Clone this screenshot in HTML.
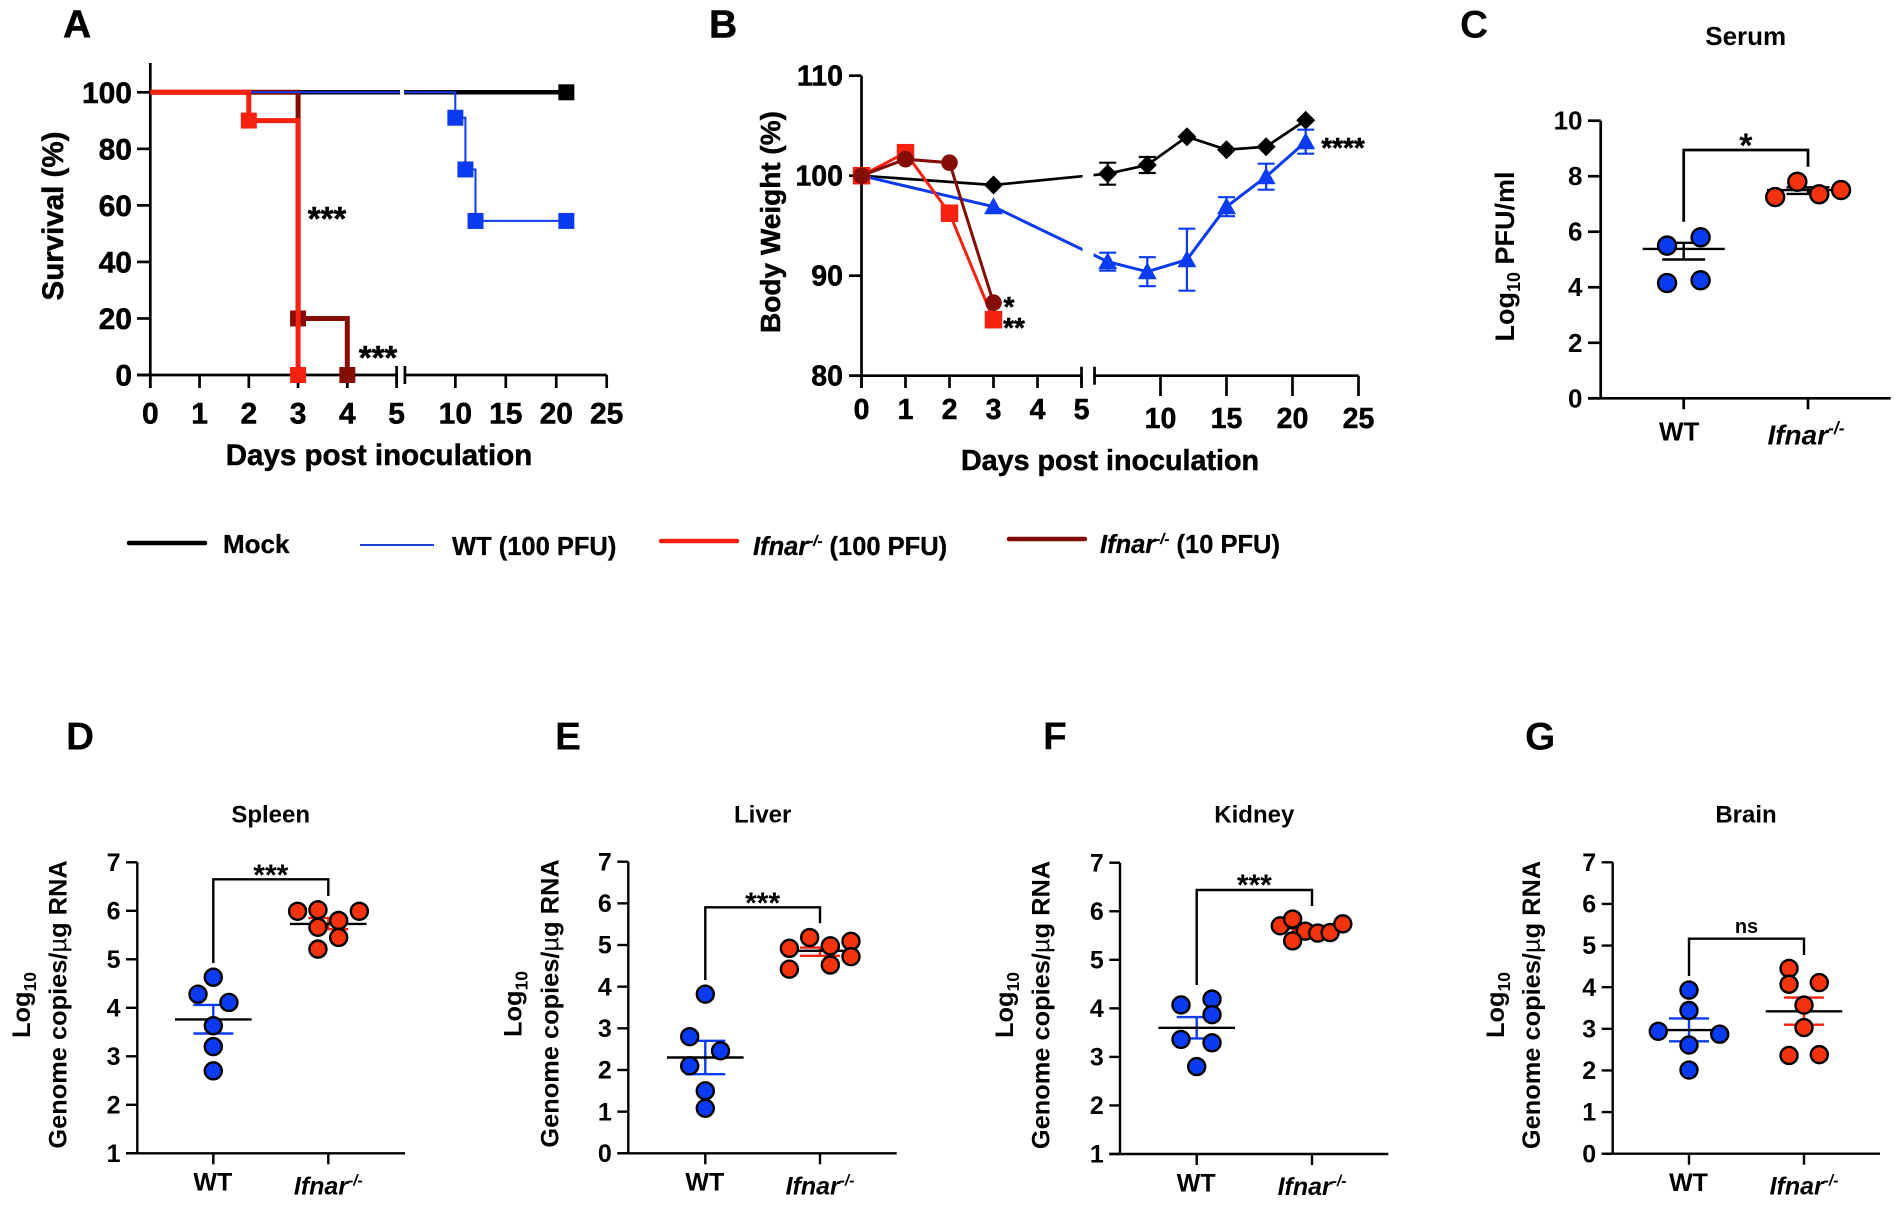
<!DOCTYPE html>
<html lang="en">
<head>
<meta charset="utf-8">
<title>Survival, body weight and viral load panels</title>
<style>
html,body{margin:0;padding:0;background:#fff;}
svg{display:block;}
text{font-family:"Liberation Sans",sans-serif;font-weight:bold;fill:#000;}
#panel-a text,#panel-b text{stroke:#000;stroke-width:.5px;}
#legend text{stroke:#000;stroke-width:.3px;}
</style>
</head>
<body>
<svg id="fig" xmlns="http://www.w3.org/2000/svg" width="1901" height="1206" viewBox="0 0 1901 1206">
<rect x="0" y="0" width="1901" height="1206" fill="#fff"/>

<g id="panel-a">
<text x="63" y="37.5" font-size="39">A</text>
<text transform="translate(63,216) rotate(-90)" text-anchor="middle" font-size="29.5">Survival (%)</text>
<text x="379" y="465" text-anchor="middle" font-size="29.5">Days post inoculation</text>
<text x="327" y="230" text-anchor="middle" font-size="33">***</text>
<text x="378" y="369" text-anchor="middle" font-size="33">***</text>
</g>

<g id="panel-b">
<text x="709" y="37.5" font-size="39">B</text>
<text transform="translate(780,222) rotate(-90)" text-anchor="middle" font-size="28">Body Weight (%)</text>
<text x="1110" y="470" text-anchor="middle" font-size="28.7">Days post inoculation</text>
<text x="1009" y="316" text-anchor="middle" font-size="28">*</text>
<text x="1014" y="337" text-anchor="middle" font-size="28">**</text>
<text x="1343" y="157" text-anchor="middle" font-size="28">****</text>
</g>

<g id="legend">
<line x1="129" y1="543" x2="205" y2="543" stroke="#000" stroke-width="4.5" stroke-linecap="round"/>
<text x="223" y="553" font-size="26">Mock</text>
<line x1="360" y1="545" x2="434" y2="545" stroke="#1a3fd8" stroke-width="2"/>
<text x="452" y="555" font-size="25.5">WT (100 PFU)</text>
<line x1="661" y1="541" x2="737" y2="541" stroke="#f5200f" stroke-width="4.5" stroke-linecap="round"/>
<text x="753" y="555" font-size="25.5"><tspan font-style="italic">Ifnar</tspan><tspan font-style="italic" font-size="15" dy="-9">-/-</tspan><tspan dy="9"> (100 PFU)</tspan></text>
<line x1="1009" y1="539" x2="1085" y2="539" stroke="#800c05" stroke-width="4.5" stroke-linecap="round"/>
<text x="1100" y="553" font-size="25.5"><tspan font-style="italic">Ifnar</tspan><tspan font-style="italic" font-size="15" dy="-9">-/-</tspan><tspan dy="9"> (10 PFU)</tspan></text>
</g>

<g id="panel-c">
<text x="1460" y="37.5" font-size="39">C</text>
<text x="1745.7" y="45" text-anchor="middle" font-size="26">Serum</text>
<text transform="translate(1514,256.5) rotate(-90)" text-anchor="middle" font-size="27">Log<tspan font-size="18" dy="6">10</tspan><tspan dy="-6"> PFU/ml</tspan></text>
</g>

<g id="panel-d">
<text x="66" y="749.5" font-size="39">D</text>
<text x="270.7" y="822.7" text-anchor="middle" font-size="24">Spleen</text>
<text transform="translate(30,1005) rotate(-90)" text-anchor="middle" font-size="25.4">Log<tspan font-size="17.5" dy="6">10</tspan></text>
<text transform="translate(66.7,1004.5) rotate(-90)" text-anchor="middle" font-size="25.4">Genome copies/<tspan font-weight="normal">µ</tspan>g RNA</text>
</g>

<g id="panel-e">
<text x="555" y="749.5" font-size="39">E</text>
<text x="762.7" y="822.7" text-anchor="middle" font-size="24">Liver</text>
<text transform="translate(521.7,1004) rotate(-90)" text-anchor="middle" font-size="25.4">Log<tspan font-size="17.5" dy="6">10</tspan></text>
<text transform="translate(558.3,1003.5) rotate(-90)" text-anchor="middle" font-size="25.4">Genome copies/<tspan font-weight="normal">µ</tspan>g RNA</text>
</g>

<g id="panel-f">
<text x="1043" y="749.5" font-size="39">F</text>
<text x="1254.3" y="822.7" text-anchor="middle" font-size="24">Kidney</text>
<text transform="translate(1013,1005) rotate(-90)" text-anchor="middle" font-size="25.4">Log<tspan font-size="17.5" dy="6">10</tspan></text>
<text transform="translate(1049.3,1005) rotate(-90)" text-anchor="middle" font-size="25.4">Genome copies/<tspan font-weight="normal">µ</tspan>g RNA</text>
</g>

<g id="panel-g">
<text x="1525" y="749.5" font-size="39">G</text>
<text x="1746" y="822.7" text-anchor="middle" font-size="24">Brain</text>
<text transform="translate(1504,1005) rotate(-90)" text-anchor="middle" font-size="25.4">Log<tspan font-size="17.5" dy="6">10</tspan></text>
<text transform="translate(1540,1005) rotate(-90)" text-anchor="middle" font-size="25.4">Genome copies/<tspan font-weight="normal">µ</tspan>g RNA</text>
</g>
</svg>

<script>
/* ---------- Panel A: survival data ---------- */
const survYTicks = [0, 20, 40, 60, 80, 100];
const survXTicksEarly = [0, 1, 2, 3, 4, 5];
const survXTicksLate = [10, 15, 20, 25];
const survMockDays = [0, 21];
const survMockPct = [100, 100];
const survWtDays = [0, 10, 11, 12, 21];
const survWtPct = [100, 91, 72.7, 54.5, 54.5];
const survHighDays = [0, 2, 3];
const survHighPct = [100, 90, 0];
const survLowDays = [0, 3, 4];
const survLowPct = [100, 20, 0];

/* ---------- Panel B: body weight data ---------- */
const bwYTicks = [80, 90, 100, 110];
const bwXTicksEarly = [0, 1, 2, 3, 4, 5];
const bwXTicksLate = [10, 15, 20, 25];
const bwMockDays = [0, 3, 6, 9, 12, 15, 18, 21];
const bwMockPct = [100, 99.07, 100.2, 101.07, 103.9, 102.6, 102.9, 105.55];
const bwMockErr = [0, 0, 1.1, 0.8, 0, 0, 0, 0];
const bwWtDays = [0, 3, 6, 9, 12, 15, 18, 21];
const bwWtPct = [100, 96.9, 91.4, 90.4, 91.6, 96.9, 99.9, 103.4];
const bwWtErr = [0, 0, 0.9, 1.45, 3.1, 0.95, 1.3, 1.2];
const bwHighDays = [0, 1, 2, 3];
const bwHighPct = [100, 102.3, 96.25, 85.6];
const bwLowDays = [0, 1, 2, 3];
const bwLowPct = [100, 101.65, 101.3, 87.3];

/* ---------- Scatter panels: categories, ticks ---------- */
const groupCategories = ['WT', 'Ifnar'];
const serumTicks = [0, 2, 4, 6, 8, 10];
const spleenTicks = [1, 2, 3, 4, 5, 6, 7];
const liverTicks = [0, 1, 2, 3, 4, 5, 6, 7];
const kidneyTicks = [1, 2, 3, 4, 5, 6, 7];
const brainTicks = [0, 1, 2, 3, 4, 5, 6, 7];

/* value = log10 titre; jitter = offset along the category axis (1 = one category) */
const serumWtVals = [5.5, 5.8, 4.15, 4.25];
const serumWtJitter = [-0.134, 0.136, -0.134, 0.136];
const serumKoVals = [7.25, 7.8, 7.35, 7.5];
const serumKoJitter = [-0.264, -0.086, 0.09, 0.266];
const serumMeans = [5.38, 7.5];
const serumSemHigh = [5.6, 7.6];
const serumSemLow = [5.0, 7.36];

const spleenWtVals = [4.63, 4.28, 4.11, 3.63, 3.2, 2.7];
const spleenWtJitter = [0, -0.133, 0.136, 0, 0, 0];
const spleenKoVals = [5.99, 6.02, 5.8, 5.99, 5.66, 5.45, 5.21];
const spleenKoJitter = [-0.267, -0.09, 0.09, 0.27, -0.09, 0.09, -0.09];
const spleenMeans = [3.76, 5.73];
const spleenSemHigh = [4.06, 5.85];
const spleenSemLow = [3.47, 5.62];

const liverWtVals = [3.82, 2.8, 2.46, 2.1, 1.5, 1.08];
const liverWtJitter = [0, -0.136, 0.133, -0.136, 0, 0];
const liverKoVals = [4.92, 5.18, 4.98, 5.09, 4.72, 4.52, 4.42];
const liverKoJitter = [-0.267, -0.09, 0.09, 0.27, 0.27, 0.09, -0.267];
const liverMeans = [2.3, 4.86];
const liverSemHigh = [2.7, 4.94];
const liverSemLow = [1.9, 4.74];

const kidneyWtVals = [4.07, 4.19, 3.87, 3.36, 3.29, 2.8];
const kidneyWtJitter = [-0.136, 0.133, 0.133, -0.136, 0.133, 0];
const kidneyKoVals = [5.7, 5.84, 5.59, 5.55, 5.56, 5.74, 5.39];
const kidneyKoJitter = [-0.275, -0.168, -0.058, 0.05, 0.157, 0.267, -0.168];
const kidneyMeans = [3.6, 5.65];
const kidneySemHigh = [3.82, 5.7];
const kidneySemLow = [3.38, 5.6];

const brainWtVals = [3.93, 3.44, 2.94, 2.87, 2.61, 2.01];
const brainWtJitter = [0, 0, -0.267, 0.267, 0, 0];
const brainKoVals = [4.45, 4.07, 4.11, 3.57, 3.03, 2.36, 2.38];
const brainKoJitter = [-0.13, -0.13, 0.133, 0, 0, -0.13, 0.133];
const brainMeans = [2.97, 3.42];
const brainSemHigh = [3.25, 3.75];
const brainSemLow = [2.7, 3.1];

/* ---------- Helpers ---------- */
const NS = 'http://www.w3.org/2000/svg';
const BLACK = '#000';
const BLUE = '#0b3bf0';
const RED = '#f7210f';
const DARK = '#840d05';
const SCAT_RED = '#f2330e';

function add(parent, tag, attrs, text) {
  const n = document.createElementNS(NS, tag);
  for (const k in attrs) n.setAttribute(k, attrs[k]);
  if (text !== undefined) n.textContent = text;
  parent.appendChild(n);
  return n;
}
function segment(parent, x1, y1, x2, y2, color, w) {
  return add(parent, 'line', {x1: x1, y1: y1, x2: x2, y2: y2, stroke: color, 'stroke-width': w});
}
function poly(parent, pts, color, w) {
  return add(parent, 'polyline', {points: pts.map(p => p[0].toFixed(1) + ',' + p[1].toFixed(1)).join(' '), fill: 'none', stroke: color, 'stroke-width': w, 'stroke-linejoin': 'miter'});
}
function squareMark(parent, cx, cy, s, color) {
  return add(parent, 'rect', {x: cx - s / 2, y: cy - s / 2, width: s, height: s, fill: color});
}
function circleMark(parent, cx, cy, r, color) {
  return add(parent, 'circle', {cx: cx, cy: cy, r: r, fill: color});
}
function diamondMark(parent, cx, cy, r) {
  return add(parent, 'polygon', {points: [cx, cy - r, cx + r, cy, cx, cy + r, cx - r, cy].join(','), fill: BLACK});
}
function triangleMark(parent, cx, cy, r) {
  return add(parent, 'polygon', {points: [cx, cy - r, cx + r, cy + r * 0.8, cx - r, cy + r * 0.8].join(','), fill: BLUE});
}
function stepPoints(days, vals, xf, yf) {
  const pts = [[xf(days[0]), yf(vals[0])]];
  for (let i = 1; i < days.length; i++) {
    pts.push([xf(days[i]), yf(vals[i - 1])]);
    pts.push([xf(days[i]), yf(vals[i])]);
  }
  return pts;
}

/* ---------- Panel A ---------- */
const xA = d => d <= 5 ? 150.3 + d * 49.26 : 404.9 + (d - 5) * 10.09;
const yA = v => 375 - v * 2.827;
const gA = document.getElementById('panel-a');

const axisAY = segment(gA, xA(0), 63, xA(0), 388, BLACK, 2.7);


const axisAX1 = segment(gA, 137, yA(0), xA(5), yA(0), BLACK, 2.7);


const axisAX2 = segment(gA, xA(5.001), yA(0), xA(25), yA(0), BLACK, 2.7);


const breakA1 = segment(gA, xA(5), yA(0) - 9, xA(5), yA(0) + 9, BLACK, 2.7);


const breakA2 = segment(gA, xA(5.001), yA(0) - 9, xA(5.001), yA(0) + 9, BLACK, 2.7);



survYTicks.forEach(v => {
  const t = segment(gA, 137, yA(v), xA(0), yA(v), BLACK, 2.7);
  
  
  const l = add(gA, 'text', {x: 132, y: yA(v) + 10.5, 'text-anchor': 'end', 'font-size': 30}, v);
  
  
});
survXTicksEarly.concat(survXTicksLate).forEach(d => {
  const t = segment(gA, xA(d), yA(0), xA(d), 388, BLACK, 2.7);
  
  
  const l = add(gA, 'text', {x: xA(d), y: 423.5, 'text-anchor': 'middle', 'font-size': 30}, d);
  
  
});

const lineAMock = poly(gA, stepPoints(survMockDays, survMockPct, xA, yA), BLACK, 4.5);


const lineALow = poly(gA, stepPoints(survLowDays, survLowPct, xA, yA), DARK, 5);


const lineAWt = poly(gA, stepPoints(survWtDays, survWtPct, xA, yA), BLUE, 2);


const gapA = add(gA, 'rect', {x: xA(5) + 3.5, y: yA(100) - 5, width: 4, height: 10, fill: '#fff'});



survLowDays.slice(1).forEach((d, i) => {
  const m = squareMark(gA, xA(d), yA(survLowPct[i + 1]), 16, DARK);
  
  
});
const lineAHigh = poly(gA, stepPoints(survHighDays, survHighPct, xA, yA), RED, 5);


survHighDays.slice(1).forEach((d, i) => {
  const m = squareMark(gA, xA(d), yA(survHighPct[i + 1]), 16, RED);
  
  
});
survMockDays.slice(1).forEach((d, i) => {
  const m = squareMark(gA, xA(d), yA(survMockPct[i + 1]), 16, BLACK);
  
  
});
survWtDays.slice(1).forEach((d, i) => {
  const m = squareMark(gA, xA(d), yA(survWtPct[i + 1]), 16, BLUE);
  
  
});

/* ---------- Panel B ---------- */
const xB = d => d <= 5 ? 861.5 + d * 44 : 1094.5 + (d - 5) * 13.2;
const yB = v => 175.7 - (v - 100) * 10;
const gB = document.getElementById('panel-b');

const axisBY = segment(gB, xB(0), yB(110), xB(0), 388, BLACK, 2.7);


const axisBX1 = segment(gB, 849, yB(80), xB(5), yB(80), BLACK, 2.7);


const axisBX2 = segment(gB, xB(5.001), yB(80), xB(25), yB(80), BLACK, 2.7);


const breakB1 = segment(gB, xB(5), yB(80) - 9, xB(5), yB(80) + 9, BLACK, 2.7);


const breakB2 = segment(gB, xB(5.001), yB(80) - 9, xB(5.001), yB(80) + 9, BLACK, 2.7);



bwYTicks.forEach(v => {
  const t = segment(gB, 849, yB(v), xB(0), yB(v), BLACK, 2.7);
  
  
  const l = add(gB, 'text', {x: 843, y: yB(v) + 10, 'text-anchor': 'end', 'font-size': 28.5}, v);
  
  
});
bwXTicksEarly.forEach(d => {
  const t = segment(gB, xB(d), yB(80), xB(d), 388, BLACK, 2.7);
  
  
  const l = add(gB, 'text', {x: xB(d), y: 419, 'text-anchor': 'middle', 'font-size': 28.5}, d);
  
  
});
bwXTicksLate.forEach(d => {
  const t = segment(gB, xB(d), yB(80), xB(d), 396, BLACK, 2.7);
  
  
  const l = add(gB, 'text', {x: xB(d), y: 428, 'text-anchor': 'middle', 'font-size': 28.5}, d);
  
  
});

const lineBMock = poly(gB, bwMockDays.map((d, i) => [xB(d), yB(bwMockPct[i])]), BLACK, 2.7);


const lineBWt = poly(gB, bwWtDays.map((d, i) => [xB(d), yB(bwWtPct[i])]), BLUE, 3);


const gapB = add(gB, 'rect', {x: xB(5) + 1, y: yB(110), width: xB(5.001) - xB(5) - 2, height: yB(82) - yB(110), fill: '#fff'});



bwMockDays.forEach((d, i) => {
  if (bwMockErr[i] > 0) {
    const e = segment(gB, xB(d), yB(bwMockPct[i] + bwMockErr[i]), xB(d), yB(bwMockPct[i] - bwMockErr[i]), BLACK, 2.2);
    
    
    const c1 = segment(gB, xB(d) - 8.5, yB(bwMockPct[i] + bwMockErr[i]), xB(d) + 8.5, yB(bwMockPct[i] + bwMockErr[i]), BLACK, 2.2);
    
    
    const c2 = segment(gB, xB(d) - 8.5, yB(bwMockPct[i] - bwMockErr[i]), xB(d) + 8.5, yB(bwMockPct[i] - bwMockErr[i]), BLACK, 2.2);
    
    
  }
  const m = diamondMark(gB, xB(d), yB(bwMockPct[i]), 9.5);
  
  
});
bwWtDays.forEach((d, i) => {
  if (bwWtErr[i] > 0) {
    const e = segment(gB, xB(d), yB(bwWtPct[i] + bwWtErr[i]), xB(d), yB(bwWtPct[i] - bwWtErr[i]), BLUE, 2.2);
    
    
    const c1 = segment(gB, xB(d) - 8.5, yB(bwWtPct[i] + bwWtErr[i]), xB(d) + 8.5, yB(bwWtPct[i] + bwWtErr[i]), BLUE, 2.2);
    
    
    const c2 = segment(gB, xB(d) - 8.5, yB(bwWtPct[i] - bwWtErr[i]), xB(d) + 8.5, yB(bwWtPct[i] - bwWtErr[i]), BLUE, 2.2);
    
    
  }
  if (i > 0) {
    const m = triangleMark(gB, xB(d), yB(bwWtPct[i]), 9.5);
    
    
  }
});

const lineBHigh = poly(gB, bwHighDays.map((d, i) => [xB(d), yB(bwHighPct[i])]), RED, 3);


bwHighDays.forEach((d, i) => {
  const m = squareMark(gB, xB(d), yB(bwHighPct[i]), 17.5, RED);
  
  
});
const lineBLow = poly(gB, bwLowDays.map((d, i) => [xB(d), yB(bwLowPct[i])]), DARK, 3);


bwLowDays.forEach((d, i) => {
  const m = circleMark(gB, xB(d), yB(bwLowPct[i]), 8.3, DARK);
  
  
});

/* ---------- Scatter panels C-G ---------- */
function drawScatter(cfg) {
  const g = document.getElementById(cfg.id);
  const p = cfg.prefix;
  const yS = v => cfg.yBottom - (v - cfg.vMin) * (cfg.yBottom - cfg.yTop) / (cfg.vMax - cfg.vMin);
  const xS = (cat, off) => cfg.xWt + (cat + off) * (cfg.xKo - cfg.xWt);
  const sw = cfg.axisWidth;

  const ax = segment(g, cfg.xAxis, cfg.yTop, cfg.xAxis, cfg.yBottom, BLACK, sw);
  
  
  const bx = segment(g, cfg.tickLeft, cfg.yBottom, cfg.xEnd, cfg.yBottom, BLACK, sw);
  
  

  cfg.ticks.forEach(v => {
    const t = segment(g, cfg.tickLeft, yS(v), cfg.xAxis, yS(v), BLACK, sw);
    
    
    const l = add(g, 'text', {x: cfg.tickLeft - 5.5, y: yS(v) + cfg.tickFont * 0.345, 'text-anchor': 'end', 'font-size': cfg.tickFont}, v);
    
    
  });

  groupCategories.forEach((c, i) => {
    const t = segment(g, xS(i, 0), cfg.yBottom, xS(i, 0), cfg.yBottom + 11, BLACK, sw);
    
    
    const isKo = c === 'Ifnar';
    const labelFont = isKo ? cfg.koFont : cfg.tickFont;
    const l = add(g, 'text', {x: xS(i, 0) - (isKo ? cfg.koShift : cfg.wtShift), y: cfg.yBottom + (isKo ? cfg.koLabelDy : cfg.wtLabelDy), 'text-anchor': 'middle', 'font-size': labelFont, 'font-style': isKo ? 'italic' : 'normal'}, c);
    
    
    if (isKo) {
      const s = add(l, 'tspan', {'font-size': labelFont * 0.62, dy: -labelFont * 0.36}, '-/-');
      
      
    }
  });

  const br = poly(g, [[xS(0, 0), cfg.brLeft], [xS(0, 0), cfg.brTop], [xS(1, 0), cfg.brTop], [xS(1, 0), cfg.brRight]], BLACK, sw);
  
  
  const mid = (xS(0, 0) + xS(1, 0)) / 2;
  const st = add(g, 'text', {x: mid, y: cfg.starY, 'text-anchor': 'middle', 'font-size': cfg.starFont, 'font-weight': cfg.star === 'ns' ? 'normal' : 'bold'}, cfg.star);
  
  

  cfg.means.forEach((m, i) => {
    const cx = xS(i, 0);
    const eColor = cfg.semColors[i];
    const stem = segment(g, cx, yS(cfg.semHigh[i]), cx, yS(cfg.semLow[i]), eColor, 2.4);
    
    
    const hi = segment(g, cx - cfg.capHalf, yS(cfg.semHigh[i]), cx + cfg.capHalf, yS(cfg.semHigh[i]), eColor, 2.4);
    
    
    const lo = segment(g, cx - cfg.capHalf, yS(cfg.semLow[i]), cx + cfg.capHalf, yS(cfg.semLow[i]), eColor, 2.4);
    
    
    const bar = segment(g, cx - cfg.meanHalf, yS(m), cx + cfg.meanHalf, yS(m), BLACK, 2.4);
    
    
  });

  cfg.wtVals.forEach((v, i) => {
    const d = add(g, 'circle', {cx: xS(0, cfg.wtJitter[i]), cy: yS(v), r: cfg.r, fill: BLUE, stroke: BLACK, 'stroke-width': 2.4});
    
    
  });
  cfg.koVals.forEach((v, i) => {
    const d = add(g, 'circle', {cx: xS(1, cfg.koJitter[i]), cy: yS(v), r: cfg.r, fill: SCAT_RED, stroke: BLACK, 'stroke-width': 2.4});
    
    
  });
}

drawScatter({id: 'panel-c', prefix: 'serum', vMin: 0, vMax: 10, yTop: 120.7, yBottom: 398.3, xAxis: 1600.7, tickLeft: 1588, xEnd: 1890.7, xWt: 1683.7, xKo: 1808, ticks: serumTicks, tickFont: 26, koFont: 28, wtShift: 4.5, koShift: 2, axisWidth: 2.7, wtLabelDy: 42.4, koLabelDy: 46, brLeft: 221.7, brTop: 150, brRight: 166.7, star: '*', starFont: 34, starY: 157, means: serumMeans, semHigh: serumSemHigh, semLow: serumSemLow, semColors: [BLACK, BLACK], capHalf: 21.5, meanHalf: 41, wtVals: serumWtVals, wtJitter: serumWtJitter, koVals: serumKoVals, koJitter: serumKoJitter, r: 9});

drawScatter({id: 'panel-d', prefix: 'spleen', vMin: 1, vMax: 7, yTop: 862.3, yBottom: 1153.3, xAxis: 137.3, tickLeft: 126, xEnd: 405, xWt: 213.3, xKo: 328.3, ticks: spleenTicks, tickFont: 25, koFont: 25, wtShift: 0.5, koShift: 0, axisWidth: 2.4, wtLabelDy: 37.4, koLabelDy: 41, brLeft: 963, brTop: 879.3, brRight: 896, star: '***', starFont: 30, starY: 885, means: spleenMeans, semHigh: spleenSemHigh, semLow: spleenSemLow, semColors: [BLUE, RED], capHalf: 20, meanHalf: 38.3, wtVals: spleenWtVals, wtJitter: spleenWtJitter, koVals: spleenKoVals, koJitter: spleenKoJitter, r: 8.5});

drawScatter({id: 'panel-e', prefix: 'liver', vMin: 0, vMax: 7, yTop: 861.7, yBottom: 1153.3, xAxis: 628.3, tickLeft: 617.3, xEnd: 896.7, xWt: 705.3, xKo: 820, ticks: liverTicks, tickFont: 25, koFont: 25, wtShift: 0.5, koShift: 0, axisWidth: 2.4, wtLabelDy: 37.4, koLabelDy: 41, brLeft: 980, brTop: 907.3, brRight: 923.3, star: '***', starFont: 30, starY: 913, means: liverMeans, semHigh: liverSemHigh, semLow: liverSemLow, semColors: [BLUE, RED], capHalf: 20, meanHalf: 38.3, wtVals: liverWtVals, wtJitter: liverWtJitter, koVals: liverKoVals, koJitter: liverKoJitter, r: 8.5});

drawScatter({id: 'panel-f', prefix: 'kidney', vMin: 1, vMax: 7, yTop: 862.7, yBottom: 1154, xAxis: 1120, tickLeft: 1109.3, xEnd: 1388.3, xWt: 1196.7, xKo: 1312, ticks: kidneyTicks, tickFont: 25, koFont: 25, wtShift: 0.5, koShift: 0, axisWidth: 2.4, wtLabelDy: 37.4, koLabelDy: 41, brLeft: 985, brTop: 890, brRight: 906, star: '***', starFont: 30, starY: 895, means: kidneyMeans, semHigh: kidneySemHigh, semLow: kidneySemLow, semColors: [BLUE, RED], capHalf: 20, meanHalf: 38.3, wtVals: kidneyWtVals, wtJitter: kidneyWtJitter, koVals: kidneyKoVals, koJitter: kidneyKoJitter, r: 8.5});

drawScatter({id: 'panel-g', prefix: 'brain', vMin: 0, vMax: 7, yTop: 862.3, yBottom: 1153.7, xAxis: 1612.7, tickLeft: 1601.7, xEnd: 1880, xWt: 1689, xKo: 1804, ticks: brainTicks, tickFont: 25, koFont: 25, wtShift: 0.5, koShift: 0, axisWidth: 2.4, wtLabelDy: 37.4, koLabelDy: 41, brLeft: 976, brTop: 938.7, brRight: 955, star: 'ns', starFont: 20, starY: 933, means: brainMeans, semHigh: brainSemHigh, semLow: brainSemLow, semColors: [BLUE, RED], capHalf: 20, meanHalf: 38.3, wtVals: brainWtVals, wtJitter: brainWtJitter, koVals: brainKoVals, koJitter: brainKoJitter, r: 8.5});
</script>
</body>
</html>
